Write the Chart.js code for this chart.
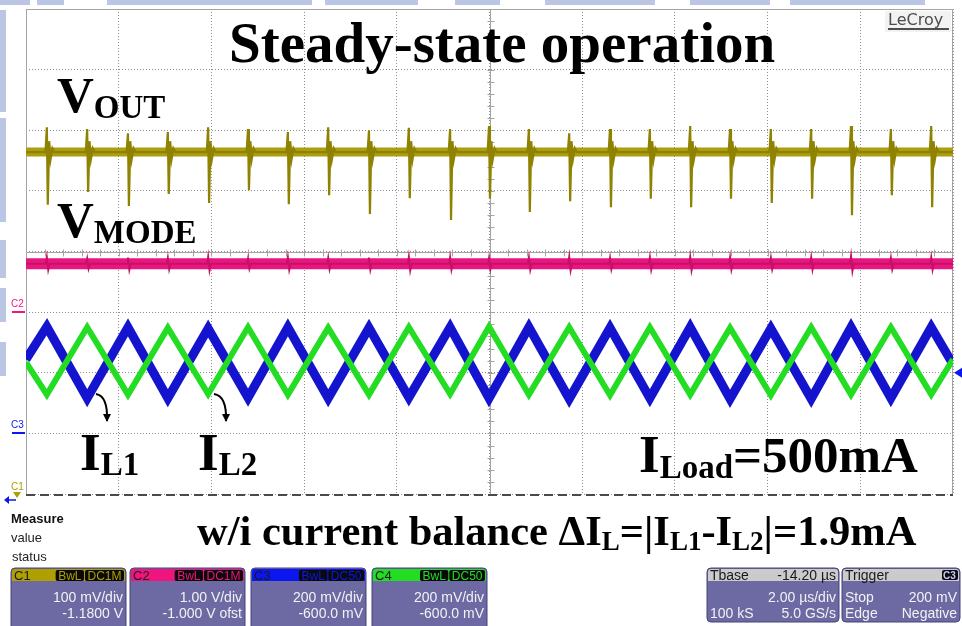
<!DOCTYPE html>
<html>
<head>
<meta charset="utf-8">
<script src="https://cdn.jsdelivr.net/npm/chart.js@4.4.1/dist/chart.umd.min.js"></script>
<style>
  html, body { margin: 0; padding: 0; background: #fff; }
  canvas { display: block; }
</style>
</head>
<body>
<canvas id="scope" width="962" height="626"></canvas>
<script>
// time base: 10 div x 2 us, vertical: 8 div, all traces in divisions
const switchUs = [0.45, 1.32, 2.20, 3.06, 3.93, 4.79, 5.65, 6.52, 7.40, 8.26, 9.15, 9.99,
                  10.85, 11.72, 12.60, 13.46, 14.33, 15.19, 16.07, 16.94, 17.80, 18.66, 19.53];

// C1 - Vout ripple with switching spikes
const voutLevel = 1.64;
const voutSpikeHigh = [2.05, 2.02, 1.95, 1.97, 2.05, 2.02, 1.97, 2.05, 2.00, 2.04, 2.02, 2.07,
                       2.02, 1.95, 2.02, 2.02, 2.07, 2.02, 2.02, 2.02, 2.07, 2.02, 2.07];
const voutSpikeLow = [0.77, 0.98, 0.75, 0.95, 0.80, 1.01, 0.78, 0.93, 0.62, 0.88, 0.52, 0.88,
                      0.65, 0.83, 0.73, 0.87, 0.73, 0.87, 0.80, 0.87, 0.60, 0.93, 0.73];

// C2 - Vmode, flat with small glitches
const vmodeLevel = -0.20;
const vmodeGlitch = [0.10, 0.08, 0.10, 0.09, 0.11, 0.08, 0.10, 0.09, 0.10, 0.11, 0.10, 0.09,
                     0.10, 0.11, 0.09, 0.10, 0.11, 0.10, 0.09, 0.10, 0.12, 0.09, 0.10];

// C3 / C4 - inductor currents, vertices at screen edges and switching instants
const edgeUs = [0, 20];
const iL1 = [-1.78, -1.24, -2.42, -1.25, -2.42, -1.27, -2.41, -1.25, -2.42, -1.26, -2.41, -1.25,
             -2.42, -1.25, -2.43, -1.26, -2.42, -1.25, -2.43, -1.27, -2.43, -1.25, -2.42, -1.25, -1.86];
const iL2 = [-1.83, -2.36, -1.25, -2.36, -1.26, -2.35, -1.25, -2.36, -1.26, -2.36, -1.25, -2.35,
             -1.24, -2.36, -1.25, -2.37, -1.25, -2.36, -1.26, -2.37, -1.25, -2.36, -1.25, -2.36, -1.78];

// channel settings
const chNames = ['C1', 'C2', 'C3', 'C4'];
const chColors = ['#ada000', '#f0147e', '#0c16ee', '#22dd22'];
const chVoltsDiv = [0.1, 1.0, 0.2, 0.2];
const chOffsetV = [-1.18, -1.0, -0.6, -0.6];
const chScaleText = ['100 mV/div', '1.00 V/div', '200 mV/div', '200 mV/div'];
const chOffsetText = ['-1.1800 V', '-1.000 V ofst', '-600.0 mV', '-600.0 mV'];
const chCoupling = ['DC1M', 'DC1M', 'DC50', 'DC50'];
const triggerLevelV = 0.2;

const traceTimes = [edgeUs[0], ...switchUs, edgeUs[1]];

const voutSpikes = [{x: 0, y: voutLevel}];
switchUs.forEach((t, i) => {
  voutSpikes.push({x: t - 0.03, y: voutLevel}, {x: t, y: voutSpikeHigh[i]},
                  {x: t + 0.02, y: voutSpikeLow[i]}, {x: t + 0.05, y: voutLevel + 0.18},
                  {x: t + 0.08, y: voutLevel - 0.12}, {x: t + 0.12, y: voutLevel + 0.06},
                  {x: t + 0.16, y: voutLevel});
});
voutSpikes.push({x: 20, y: voutLevel});

const vmodeGlitches = [{x: 0, y: vmodeLevel}];
switchUs.forEach((t, i) => {
  vmodeGlitches.push({x: t - 0.02, y: vmodeLevel}, {x: t, y: vmodeLevel + vmodeGlitch[i]},
                     {x: t + 0.03, y: vmodeLevel - vmodeGlitch[i]}, {x: t + 0.06, y: vmodeLevel});
});
vmodeGlitches.push({x: 20, y: vmodeLevel});

const SERIF = '"Liberation Serif", "Times New Roman", serif';
const SANS = '"Liberation Sans", Arial, sans-serif';

function rrect(ctx, x, y, w, h, r) {
  ctx.beginPath();
  ctx.roundRect(x, y, w, h, r);
}

function rich(ctx, x, y, parts) {
  for (const [txt, size, dy] of parts) {
    ctx.font = `bold ${size}px ${SERIF}`;
    ctx.fillText(txt, x, y + dy);
    x += ctx.measureText(txt).width;
  }
}

function curvedArrow(ctx, x0, y0, x1, y1) {
  ctx.beginPath();
  ctx.moveTo(x0, y0);
  ctx.quadraticCurveTo(x1 + 1, y0 + 2, x1, y1);
  ctx.stroke();
  ctx.beginPath();
  ctx.moveTo(x1 - 4, y1 - 7);
  ctx.lineTo(x1, y1 + 1);
  ctx.lineTo(x1 + 4, y1 - 7);
  ctx.closePath();
  ctx.fill();
}

const scopeDecor = {
  id: 'scopeDecor',
  beforeDraw(chart) {
    const ctx = chart.ctx;
    ctx.save();
    ctx.fillStyle = '#fff';
    ctx.fillRect(0, 0, chart.width, chart.height);
    // slide background showing around the screen
    ctx.fillStyle = '#bac6e4';
    [[0, 30], [37, 64], [107, 312], [325, 418], [455, 500], [545, 655], [690, 770], [790, 925]]
      .forEach(([a, b]) => ctx.fillRect(a, 0, b - a, 5));
    [[10, 112], [118, 222], [240, 278], [288, 322], [342, 376]]
      .forEach(([a, b]) => ctx.fillRect(0, a, 6, b - a));
    ctx.restore();
  },
  beforeDatasetsDraw(chart) {
    const {ctx, chartArea: a, scales: {x, y}} = chart;
    ctx.save();
    ctx.strokeStyle = '#a4a4a4';
    ctx.lineWidth = 1;
    ctx.beginPath();
    ctx.moveTo(a.left + 0.5, a.bottom); ctx.lineTo(a.left + 0.5, a.top + 0.5);
    ctx.lineTo(a.right - 0.5, a.top + 0.5); ctx.lineTo(a.right - 0.5, a.bottom);
    ctx.stroke();
    // centre cross with minor ticks
    const cy = Math.round(y.getPixelForValue(0)) + 0.5;
    const cx = Math.round(x.getPixelForValue(10)) + 0.5;
    ctx.beginPath();
    ctx.moveTo(a.left, cy); ctx.lineTo(a.right, cy);
    ctx.moveTo(cx, a.top); ctx.lineTo(cx, a.bottom);
    for (let k = 1; k < 50; k++) {
      const px = Math.round(x.getPixelForValue(k * 0.4)) + 0.5;
      ctx.moveTo(px, cy - 3); ctx.lineTo(px, cy + 4);
    }
    for (let k = 1; k < 40; k++) {
      const py = Math.round(y.getPixelForValue(-4 + k * 0.2)) + 0.5;
      ctx.moveTo(cx - 3, py); ctx.lineTo(cx + 4, py);
    }
    ctx.stroke();
    // bottom edge
    ctx.strokeStyle = '#4a4a4a';
    ctx.lineWidth = 2;
    ctx.setLineDash([9, 5]);
    ctx.beginPath();
    ctx.moveTo(a.left, a.bottom + 1); ctx.lineTo(a.right, a.bottom + 1);
    ctx.stroke();
    ctx.restore();
  },
  afterDraw(chart) {
    const {ctx, chartArea: a, scales: {x, y}} = chart;
    ctx.save();

    // LeCroy logo
    ctx.fillStyle = '#f2f2f2';
    ctx.fillRect(885, 11, 66, 21);
    ctx.fillStyle = '#4d4d4d';
    ctx.font = `16px "DejaVu Sans", sans-serif`;
    ctx.textBaseline = 'alphabetic';
    ctx.fillText('LeCroy', 888, 25);
    ctx.fillRect(888, 28, 61, 2);

    // ground markers on the left edge
    ctx.font = `10px ${SANS}`;
    [1, 2].forEach(ch => {
      const py = Math.round(y.getPixelForValue(chOffsetV[ch] / chVoltsDiv[ch]));
      ctx.fillStyle = chColors[ch];
      ctx.fillText(chNames[ch], 11, py - 5);
      ctx.fillRect(12, py - 1, 13, 2);
    });
    // C1 ground is below the screen
    ctx.fillStyle = chColors[0];
    ctx.fillText(chNames[0], 11, 490);
    ctx.beginPath();
    ctx.moveTo(13, 492); ctx.lineTo(21, 492); ctx.lineTo(17, 498); ctx.closePath(); ctx.fill();
    // trigger delay off-screen to the left
    ctx.strokeStyle = chColors[2];
    ctx.fillStyle = chColors[2];
    ctx.lineWidth = 1.5;
    ctx.beginPath(); ctx.moveTo(6, 500); ctx.lineTo(16, 500); ctx.stroke();
    ctx.beginPath(); ctx.moveTo(4, 500); ctx.lineTo(9, 496); ctx.lineTo(9, 504); ctx.closePath(); ctx.fill();
    // trigger level
    const ty = y.getPixelForValue((triggerLevelV + chOffsetV[2]) / chVoltsDiv[2]);
    ctx.beginPath();
    ctx.moveTo(a.right + 1, ty); ctx.lineTo(a.right + 9, ty - 5); ctx.lineTo(a.right + 9, ty + 5);
    ctx.closePath(); ctx.fill();

    // annotations
    ctx.fillStyle = '#000';
    ctx.font = `bold 57px ${SERIF}`;
    ctx.fillText('Steady-state operation', 229, 62);
    rich(ctx, 57, 112, [['V', 51, 0], ['OUT', 33, 6]]);
    rich(ctx, 57, 237, [['V', 51, 0], ['MODE', 33, 6]]);
    rich(ctx, 80, 470, [['I', 53, 0], ['L1', 33, 5]]);
    rich(ctx, 198, 470, [['I', 53, 0], ['L2', 33, 5]]);
    rich(ctx, 639, 472, [['I', 53, 0], ['Load', 33, 6], ['=500mA', 51, 0]]);
    rich(ctx, 197, 545, [['w/i current balance ΔI', 42.5, 0], ['L', 27, 5], ['=|I', 42.5, 0], ['L1', 27, 5],
                         ['-I', 42.5, 0], ['L2', 27, 5], ['|=1.9mA', 42.5, 0]]);
    ctx.strokeStyle = '#000';
    ctx.lineWidth = 2;
    curvedArrow(ctx, 96, 394, 107, 421);
    curvedArrow(ctx, 214, 394, 226, 421);

    // measure area
    ctx.fillStyle = '#111';
    ctx.font = `bold 13px ${SANS}`;
    ctx.fillText('Measure', 11, 523);
    ctx.font = `13px ${SANS}`;
    ctx.fillStyle = '#222';
    ctx.fillText('value', 11, 542);
    ctx.fillText('status', 12, 561);

    // channel boxes
    const boxX = [11, 130, 251, 372];
    chNames.forEach((name, i) => {
      const bx = boxX[i], bw = 115, by = 568;
      rrect(ctx, bx, by, bw, 70, 4);
      ctx.fillStyle = '#6d69a3';
      ctx.fill();
      ctx.strokeStyle = '#46427a';
      ctx.lineWidth = 1;
      ctx.stroke();
      rrect(ctx, bx + 1, by + 1, bw - 2, 12, [3, 3, 0, 0]);
      ctx.fillStyle = chColors[i];
      ctx.fill();
      ctx.font = `13px ${SANS}`;
      ctx.fillStyle = '#1a1a1a';
      ctx.textAlign = 'left';
      ctx.fillText(name, bx + 3, by + 12);
      // BwL / coupling badges
      ctx.font = `12px ${SANS}`;
      const cw = ctx.measureText(chCoupling[i]).width + 5;
      const bwW = ctx.measureText('BwL').width + 5;
      const cX = bx + bw - 2 - cw, bX = cX - 1 - bwW;
      [[bX, bwW, 'BwL'], [cX, cw, chCoupling[i]]].forEach(([px, pw, t]) => {
        rrect(ctx, px, by + 2, pw, 11, 2);
        ctx.fillStyle = '#0a0a0a';
        ctx.fill();
        ctx.fillStyle = chColors[i];
        ctx.fillText(t, px + 2.5, by + 12);
      });
      ctx.font = `14px ${SANS}`;
      ctx.fillStyle = '#f2f2f4';
      ctx.textAlign = 'right';
      ctx.fillText(chScaleText[i], bx + bw - 3, 602);
      ctx.fillText(chOffsetText[i], bx + bw - 3, 618);
      ctx.textAlign = 'left';
    });

    // timebase and trigger boxes
    const info = [
      {x: 707, w: 132, head: ['Tbase', '-14.20 µs'], rows: [['', '2.00 µs/div'], ['100 kS', '5.0 GS/s']]},
      {x: 842, w: 118, head: ['Trigger', ''], rows: [['Stop', '200 mV'], ['Edge', 'Negative']]}
    ];
    info.forEach(b => {
      rrect(ctx, b.x, 568, b.w, 54, 4);
      ctx.fillStyle = '#6d69a3';
      ctx.fill();
      ctx.strokeStyle = '#46427a';
      ctx.stroke();
      rrect(ctx, b.x + 1, 569, b.w - 2, 12, [3, 3, 0, 0]);
      ctx.fillStyle = '#cbcbcb';
      ctx.fill();
      ctx.font = `14px ${SANS}`;
      ctx.fillStyle = '#1a1a1a';
      ctx.fillText(b.head[0], b.x + 3, 580);
      ctx.textAlign = 'right';
      ctx.fillText(b.head[1], b.x + b.w - 3, 580);
      ctx.fillStyle = '#f2f2f4';
      b.rows.forEach((r, k) => {
        ctx.textAlign = 'left';
        ctx.fillText(r[0], b.x + 3, 602 + k * 16);
        ctx.textAlign = 'right';
        ctx.fillText(r[1], b.x + b.w - 3, 602 + k * 16);
      });
      ctx.textAlign = 'left';
    });
    // trigger source badge
    rrect(ctx, 942, 570, 16, 10, 2);
    ctx.fillStyle = '#0a0a0a';
    ctx.fill();
    ctx.font = `bold 10px ${SANS}`;
    ctx.fillStyle = '#c8c8ff';
    ctx.fillText('C3', 943, 579);

    ctx.restore();
  }
};

const gridStyle = {color: '#8e8e8e', lineWidth: 1, drawTicks: false};

new Chart(document.getElementById('scope'), {
  type: 'line',
  data: {
    datasets: [
      {label: 'IL2', data: traceTimes.map((t, i) => ({x: t, y: iL2[i]})),
       borderColor: chColors[3], borderWidth: 6, order: 0},
      {label: 'IL1', data: traceTimes.map((t, i) => ({x: t, y: iL1[i]})),
       borderColor: '#1414cf', borderWidth: 9, order: 1},
      {label: 'VMODE', data: [{x: 0, y: vmodeLevel}, {x: 20, y: vmodeLevel}],
       borderColor: '#e8167f', borderWidth: 11, order: 3},
      {label: 'VMODE glitch', data: vmodeGlitches,
       borderColor: '#c8106a', borderWidth: 2, order: 2},
      {label: 'VOUT', data: [{x: 0, y: voutLevel}, {x: 20, y: voutLevel}],
       borderColor: '#ab9e10', borderWidth: 9, order: 5},
      {label: 'VOUT spikes', data: voutSpikes,
       borderColor: '#8e8200', borderWidth: 2.2, order: 4}
    ]
  },
  options: {
    responsive: false,
    animation: false,
    devicePixelRatio: 1,
    layout: {padding: {left: 26, top: 9, right: 9, bottom: 132}},
    elements: {point: {radius: 0}, line: {tension: 0, borderJoinStyle: 'miter', fill: false}},
    plugins: {legend: {display: false}, tooltip: {enabled: false}},
    scales: {
      x: {type: 'linear', min: 0, max: 20, ticks: {display: false, stepSize: 2},
          grid: gridStyle, border: {display: false, dash: [1, 2]}},
      y: {type: 'linear', min: -4, max: 4, ticks: {display: false, stepSize: 1},
          grid: gridStyle, border: {display: false, dash: [1, 2]}}
    }
  },
  plugins: [scopeDecor]
});
</script>
</body>
</html>
